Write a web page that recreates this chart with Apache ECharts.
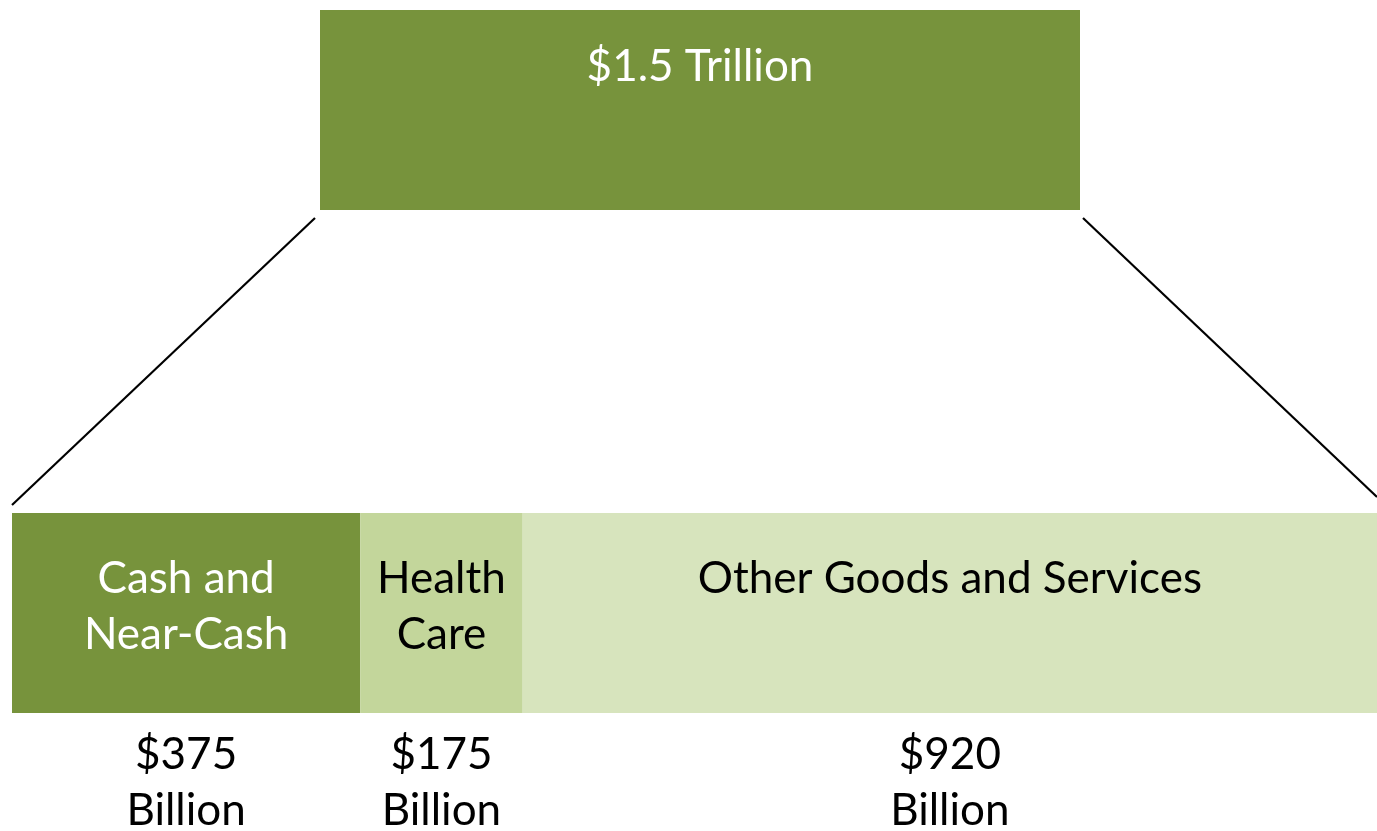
<!DOCTYPE html>
<html>
<head>
<meta charset="utf-8">
<script src="https://cdn.jsdelivr.net/npm/echarts@6/dist/echarts.min.js"></script>
<style>
  html, body { margin: 0; padding: 0; background: #fff; }
  #chart { width: 1377px; height: 831px; }
</style>
</head>
<body>
<div id="chart"></div>
<script>
// parts of the total, in billions
var partNames = ['Cash and\nNear-Cash', 'Health\nCare', 'Other Goods and Services\n '];
var partValues = [375, 175, 920];
var partLabels = ['$375\nBillion', '$175\nBillion', '$920\nBillion'];
var partColors = ['#77933C', '#C3D69B', '#D7E4BD'];
var nameColors = ['#ffffff', '#000000', '#000000'];
var totalLabel = '$1.5 Trillion';

var total = 0;
partValues.forEach(function (v) { total += v });

var font = 'Lato, "Open Sans", sans-serif';
var chart = echarts.init(document.getElementById('chart'));

var series = partValues.map(function (v, i) {
  return {
    type: 'bar',
    stack: 'parts',
    xAxisIndex: 0,
    yAxisIndex: 0,
    barWidth: 200,
    data: [v],
    itemStyle: { color: partColors[i] },
    label: {
      show: true,
      position: 'insideTop',
      distance: 38,
      formatter: function () {
        var n = partNames[i].split('\n').map(function (s) { return '{n|' + s + '}' }).join('\n');
        var l = partLabels[i].split('\n').map(function (s) { return '{v|' + s + '}' }).join('\n');
        return n + '\n{g|}\n' + l;
      },
      rich: {
        n: { fontSize: 44, lineHeight: 56, color: nameColors[i], fontFamily: font },
        g: { lineHeight: 64, fontSize: 10 },
        v: { fontSize: 44, lineHeight: 56, color: '#000', fontFamily: font }
      }
    }
  };
});

series.push({
  type: 'bar',
  xAxisIndex: 1,
  yAxisIndex: 1,
  barWidth: 200,
  data: [total],
  itemStyle: { color: '#77933C' },
  label: {
    show: true,
    position: 'insideTop',
    distance: 29,
    formatter: totalLabel,
    fontSize: 44,
    lineHeight: 56,
    color: '#fff',
    fontFamily: font
  }
});

chart.setOption({
  animation: false,
  grid: [
    { left: 12, right: 0, top: 513, height: 200 },
    { left: 320, width: 760, top: 10, height: 200 }
  ],
  xAxis: [
    { type: 'value', gridIndex: 0, min: 0, max: total, show: false },
    { type: 'value', gridIndex: 1, min: 0, max: total, show: false }
  ],
  yAxis: [
    { type: 'category', gridIndex: 0, data: ['parts'], show: false },
    { type: 'category', gridIndex: 1, data: ['total'], show: false }
  ],
  graphic: [
    { type: 'line', shape: { x1: 315, y1: 218, x2: 12, y2: 505 }, style: { stroke: '#000', lineWidth: 2.2 } },
    { type: 'line', shape: { x1: 1083, y1: 218, x2: 1377, y2: 497 }, style: { stroke: '#000', lineWidth: 2.2 } }
  ],
  series: series
});
</script>
</body>
</html>
